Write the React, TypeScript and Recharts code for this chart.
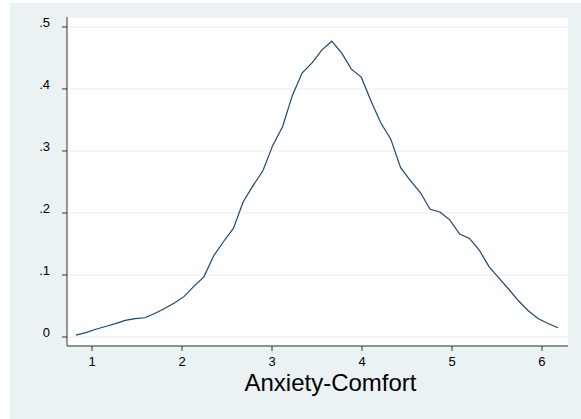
import { LineChart, Line, XAxis, YAxis, CartesianGrid, Label } from 'recharts'

// kernel density estimate, 50 evaluation points
const xs = [
  0.822, 0.931, 1.041, 1.15, 1.259, 1.369, 1.478, 1.587, 1.696, 1.806,
  1.915, 2.024, 2.134, 2.243, 2.352, 2.462, 2.571, 2.68, 2.789, 2.899,
  3.008, 3.117, 3.227, 3.336, 3.445, 3.555, 3.664, 3.773, 3.882, 3.992,
  4.101, 4.21, 4.32, 4.429, 4.538, 4.648, 4.757, 4.866, 4.975, 5.085,
  5.194, 5.303, 5.413, 5.522, 5.631, 5.741, 5.85, 5.959, 6.068, 6.178,
]
const density = [
  0.003, 0.007, 0.0125, 0.017, 0.0215, 0.0268, 0.0295, 0.031, 0.038, 0.046,
  0.055, 0.0655, 0.082, 0.097, 0.131, 0.154, 0.175, 0.218, 0.244, 0.268,
  0.309, 0.339, 0.39, 0.426, 0.442, 0.463, 0.477, 0.458, 0.432, 0.419,
  0.38, 0.345, 0.319, 0.273, 0.252, 0.233, 0.206, 0.2016, 0.189, 0.166,
  0.159, 0.14, 0.113, 0.095, 0.077, 0.058, 0.042, 0.0295, 0.0218, 0.015,
]
const xTicks = [1, 2, 3, 4, 5, 6]
const yTicks = [0, 0.1, 0.2, 0.3, 0.4, 0.5]

const data = xs.map((x, i) => ({ x, d: density[i] }))

const font = 'Arial, "Liberation Sans", sans-serif'
const axisColor = '#333'

const fmtY = (v: number) => (v === 0 ? '0' : String(v).replace('0.', '.'))

export default function App() {
  return (
    <div style={{ position: 'absolute', left: 0, top: 0, width: 581, height: 419, background: '#fff' }}>
      <div style={{ position: 'absolute', left: 10, top: 3, width: 571, height: 416, background: '#EAF2F3' }}>
        <LineChart
          width={571}
          height={416}
          data={data}
          margin={{ top: 14, right: 13, bottom: 0, left: 0 }}
          style={{ fontFamily: font }}
        >
          <CartesianGrid vertical={false} stroke="#EEF3F3" strokeWidth={1.5} fill="#fff" />
          <XAxis
            dataKey="x"
            type="number"
            domain={[0.722, 6.289]}
            ticks={xTicks}
            height={73}
            tickSize={5}
            tickMargin={6}
            stroke={axisColor}
            tick={{ fill: '#000', fontSize: 13 }}
          >
            <Label value="Anxiety-Comfort" position="insideTop" offset={28} dx={13} fill="#000" fontSize={24} />
          </XAxis>
          <YAxis
            type="number"
            domain={[-0.0145, 0.516]}
            ticks={yTicks}
            width={57}
            tickSize={5}
            tickMargin={12}
            stroke={axisColor}
            tickFormatter={fmtY}
            tick={{ fill: '#000', fontSize: 13, dy: -5 }}
          />
          <Line
            dataKey="d"
            type="linear"
            stroke="#1A476F"
            strokeWidth={1.2}
            dot={false}
            isAnimationActive={false}
          />
        </LineChart>
      </div>
    </div>
  )
}
